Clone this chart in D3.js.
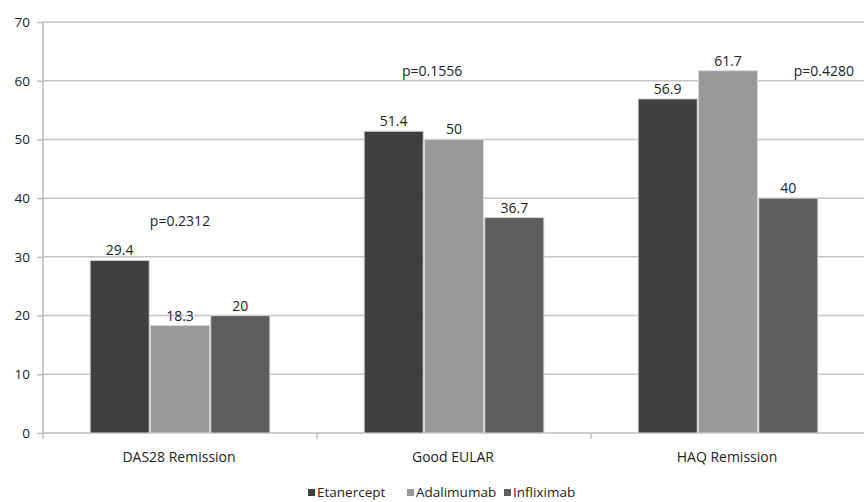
<!DOCTYPE html>
<html>
<head>
<meta charset="utf-8">
<script src="https://cdn.jsdelivr.net/npm/d3@7"></script>
<style>
  body { margin: 0; background: #fff; }
  text { font-family: "Open Sans", "Liberation Sans", sans-serif; fill: #222; }
</style>
</head>
<body>
<div id="drawing"></div>
<script>
const categories = ["DAS28 Remission", "Good EULAR", "HAQ Remission"];
const seriesNames = ["Etanercept", "Adalimumab", "Infliximab"];
const etanercept = [29.4, 51.4, 56.9];
const adalimumab = [18.3, 50, 61.7];
const infliximab = [20, 36.7, 40];
const pValues = ["p=0.2312", "p=0.1556", "p=0.4280"];
const yTicks = [0, 10, 20, 30, 40, 50, 60, 70];

const colors = ["#3f3f3f", "#999999", "#5e5e5e"];
const values = [etanercept, adalimumab, infliximab];

const width = 864;
const height = 502;
const margin = {top: 22, right: 0, bottom: 69, left: 43};

const svg = d3.select("#drawing").append("svg")
  .attr("width", width)
  .attr("height", height);

const g = svg.append("g")
  .attr("transform", `translate(${margin.left},${margin.top})`);

const innerW = 822;
const innerH = height - margin.top - margin.bottom;

const x0 = d3.scaleBand().domain(categories).range([0, innerW]).padding(0);
const groupPad = x0.bandwidth() * 0.172;
const x1 = d3.scaleBand().domain(seriesNames)
  .range([groupPad, x0.bandwidth() - groupPad]).paddingInner(0.02);
const y = d3.scaleLinear().domain([0, 70]).range([innerH, 0]);

// gridlines
g.selectAll(".grid")
  .data(yTicks.filter(d => d > 0))
  .enter().append("line")
  .attr("x1", 0).attr("x2", innerW)
  .attr("y1", d => y(d)).attr("y2", d => y(d))
  .attr("stroke", "#c4c4c4").attr("stroke-width", 1.5);

// y axis
const yAxis = g.append("g")
  .call(d3.axisLeft(y).tickValues(yTicks).tickSize(6).tickPadding(7));
yAxis.select(".domain").attr("stroke", "#bcbcbc").attr("stroke-width", 1.5)
  .attr("d", `M0,${innerH + 6}V0`);
yAxis.selectAll(".tick line").attr("stroke", "#bcbcbc").attr("stroke-width", 1.5);
yAxis.selectAll(".tick text").style("font-size", "13.5px").attr("fill", "#222");

// x axis
const xAxis = g.append("g").attr("transform", `translate(0,${innerH})`);
xAxis.append("line").attr("x1", 0).attr("x2", innerW)
  .attr("stroke", "#bcbcbc").attr("stroke-width", 1.5);
xAxis.selectAll(".xt")
  .data(categories.slice(1))
  .enter().append("line")
  .attr("x1", d => x0(d)).attr("x2", d => x0(d))
  .attr("y1", 0).attr("y2", 6)
  .attr("stroke", "#bcbcbc").attr("stroke-width", 1.5);
xAxis.selectAll(".xl")
  .data(categories)
  .enter().append("text")
  .attr("x", d => x0(d) + x0.bandwidth() / 2 - 1)
  .attr("y", 29)
  .attr("text-anchor", "middle")
  .style("font-size", "14px")
  .text(d => d);

// bars
const groups = g.selectAll(".group")
  .data(categories)
  .enter().append("g")
  .attr("transform", d => `translate(${x0(d)},0)`);

groups.selectAll("rect")
  .data((d, i) => seriesNames.map((s, j) => ({s, v: values[j][i], j})))
  .enter().append("rect")
  .attr("x", d => x1(d.s))
  .attr("y", d => y(d.v))
  .attr("width", x1.bandwidth())
  .attr("height", d => innerH - y(d.v))
  .attr("fill", d => colors[d.j])
  .attr("stroke", "#d8d8d8")
  .attr("stroke-width", 1);

groups.selectAll(".val")
  .data((d, i) => seriesNames.map((s, j) => ({s, v: values[j][i], j})))
  .enter().append("text")
  .attr("x", d => x1(d.s) + x1.bandwidth() / 2)
  .attr("y", d => y(d.v) - 5)
  .attr("text-anchor", "middle")
  .style("font-size", "14px")
  .text(d => d.v);

// p values (placement within each category band)
const pPos = [[0.39, 35.3], [0.31, 60.8], [0.74, 60.8]];
g.selectAll(".pval")
  .data(pValues)
  .enter().append("text")
  .attr("x", (d, i) => x0(categories[i]) + x0.bandwidth() * pPos[i][0])
  .attr("y", (d, i) => y(pPos[i][1]))
  .style("font-size", "14px")
  .text(d => d);

// legend
const legend = svg.append("g").attr("transform", "translate(308,497)");
const legendX = [0, 99, 196];
seriesNames.forEach((s, i) => {
  legend.append("rect")
    .attr("x", legendX[i]).attr("y", -8)
    .attr("width", 7).attr("height", 7)
    .attr("fill", colors[i]);
  legend.append("text")
    .attr("x", legendX[i] + 9).attr("y", 0)
    .style("font-size", "13.5px")
    .text(s);
});
</script>
</body>
</html>
